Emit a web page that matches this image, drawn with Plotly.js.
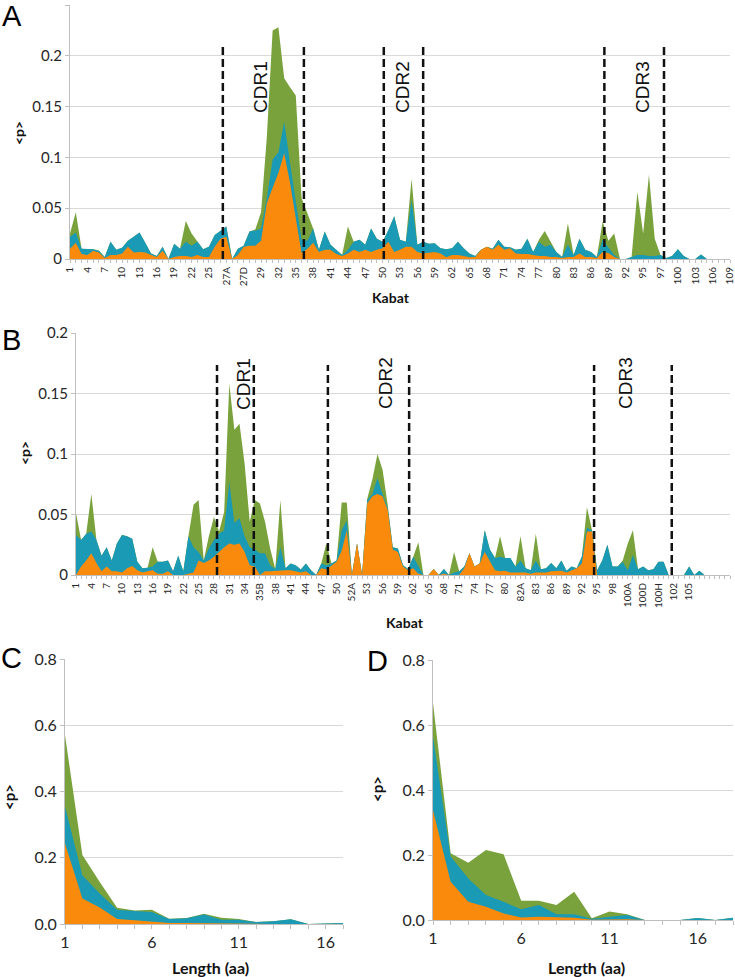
<!DOCTYPE html>
<html>
<head>
<meta charset="utf-8">
<script src="https://cdn.plot.ly/plotly-3.0.1.min.js"></script>
<style>html,body{margin:0;padding:0;background:#fff;}#chart{width:735px;height:977px;}</style>
</head>
<body>
<div id="chart"></div>
<script>
// ---------- Panel A (light chain, Kabat) ----------
const kabatA = ['1','2','3','4','5','6','7','8','9','10','11','12','13','14','15','16','17','18','19','20','21','22','23','24','25','26','27','27A','27B','27C','27D','27E','28','29','30','31','32','33','34','35','36','37','38','39','40','41','42','43','44','45','46','47','48','49','50','51','52','53','54','55','56','57','58','59','60','61','62','63','64','65','66','67','68','69','70','71','72','73','74','75','76','77','78','79','80','81','82','83','84','85','86','87','88','89','90','91','92','93','94','95','95A','96','97','98','99','100','101','102','103','104','105','106','107','108','109'];
// upper edge of each coloured band (green = total, teal, orange)
const aGreenTop = [.025,.046,.010,.0095,.0095,.008,.002,.017,.009,.011,.018,.022,.026,.016,.0055,.003,.012,0,.015,.010,.0375,.025,.017,.0095,.012,.0235,.0275,.032,0,.010,.013,.027,.029,.046,.120,.225,.228,.178,.169,.161,.060,.045,.030,.009,.027,.014,.009,.004,.032,.017,.019,.014,.030,.020,.017,.0285,.042,.019,.017,.079,.014,.017,.015,.0155,.0105,.0095,.0105,.017,.0105,.0055,.003,.009,.012,.010,.019,.012,.0115,.009,.010,.020,.007,.019,.0275,.017,.007,.002,.035,.004,.020,.009,.007,.002,.037,.018,.025,0,0,.002,.066,.025,.083,.020,.004,.001,.003,.0095,.003,0,0,.0045,0,0,0,0,0];
const aTealTop  = [.022,.026,.010,.0095,.0095,.008,.002,.017,.009,.011,.018,.022,.026,.016,.0055,.003,.012,0,.015,.010,.017,.013,.017,.0095,.012,.0235,.0275,.032,0,.010,.013,.027,.028,.030,.060,.098,.105,.135,.095,.058,.019,.018,.030,.009,.027,.014,.009,.004,.009,.017,.019,.014,.030,.020,.017,.0285,.042,.019,.017,.058,.014,.017,.015,.0155,.0105,.0095,.0105,.017,.0105,.0055,.003,.009,.012,.010,.019,.012,.0115,.009,.010,.020,.007,.017,.012,.014,.007,.002,.014,.004,.020,.009,.007,.002,.019,.012,.004,0,0,.002,.004,.004,.003,.003,.004,.001,.003,.0095,.003,0,0,.0045,0,0,0,0,0];
const aOrangeTop= [.010,.016,.005,.004,.008,.0065,.001,.004,.004,.0055,.012,.0065,.007,.0065,.004,.002,.008,0,.002,.003,.003,.002,.004,.002,.002,.012,.020,.022,0,.004,.012,.013,.013,.018,.055,.070,.085,.104,.075,.040,.006,.010,.016,.007,.009,.009,.005,.003,.0055,.009,.007,.009,.007,.009,.0105,.017,.007,.009,.012,.012,.007,.0055,.006,.007,.0055,.0016,.004,.004,.003,.0016,.002,.009,.012,.009,.014,.009,.0105,.0055,.005,.005,.004,.003,.003,.002,.002,.001,.002,.002,.0055,.002,.002,.001,.007,.006,.002,0,0,0,0,0,0,0,0,0,0,0,0,0,0,0,0,0,0,0,0];
const cdrLinesA = [26.4, 40.4, 54.2, 61.0, 92.3, 102.6];

// ---------- Panel B (heavy chain, Kabat) ----------
const kabatB = ['1','2','3','4','5','6','7','8','9','10','11','12','13','14','15','16','17','18','19','20','21','22','23','24','25','26','27','28','29','30','31','32','33','34','35','35A','35B','36','37','38','39','40','41','42','43','44','45','46','47','48','49','50','51','52','52A','52B','52C','53','54','55','56','57','58','59','60','61','62','63','64','65','66','67','68','69','70','71','72','73','74','75','76','77','78','79','80','81','82','82A','82B','82C','83','84','85','86','87','88','89','90','91','92','93','94','95','96','97','98','99','100','100A','100B','100C','100D','100E','100F','100H','100I','101','102','103','104','105','106','107','108','109','110','111','112','113'];
const bLabelLast = '105';
const bGreenTop = [.051,.029,.034,.067,.029,.016,.023,.012,.026,.033,.032,.030,.011,.0055,.006,.023,.011,.011,.012,.003,.016,.003,.032,.058,.062,.012,.032,.048,.036,.052,.158,.120,.125,.092,.044,.062,.059,.044,.022,.005,.062,.0055,.0096,.008,.0045,.0096,.004,0,.0096,.026,.0096,.012,.060,.060,0,.026,0,.063,.079,.100,.087,.058,.023,.022,.008,.005,.015,.027,0,0,.005,0,.005,0,.019,.003,.007,.018,.007,.0096,.037,.021,.014,.032,.014,.014,.007,.032,.0055,.004,.034,.0047,.0055,.010,.0055,.012,.0035,.007,.0055,.015,.056,.037,.004,.012,.025,.007,.007,.012,.026,.037,.0047,.007,.004,.0047,.011,.011,0,0,0,0,.007,0,.0035,0,0,0,0,0,0];
const bTealTop  = [.033,.029,.034,.036,.029,.016,.023,.012,.026,.033,.032,.030,.011,.0055,.006,.007,.011,.011,.012,.003,.016,.003,.032,.023,.019,.012,.022,.029,.034,.037,.077,.043,.047,.032,.023,.021,.018,.018,.008,.005,.023,.0055,.0096,.008,.0045,.0096,.004,0,.0096,.008,.0096,.012,.037,.045,0,.026,0,.062,.067,.080,.067,.056,.023,.022,.008,.005,.015,.007,0,0,.005,0,.005,0,.002,.003,.007,.018,.007,.0096,.037,.021,.014,.015,.014,.014,.007,.012,.0055,.004,.012,.0047,.0055,.010,.0055,.012,.0035,.007,.0055,.015,.039,.037,.004,.012,.025,.007,.007,.011,.004,.0165,.0047,.007,.004,.0047,.011,.011,0,0,0,0,.007,0,.0035,0,0,0,0,0,0];
const bOrangeTop= [0,.007,.012,.018,.010,.003,.007,.003,.003,.002,.0055,.0075,.004,.002,.003,.004,.001,.001,.003,0,0,0,.001,.002,.012,.010,.012,.015,.019,.023,.026,.025,.026,.019,.008,.007,0,.003,.003,.0035,.004,.004,.004,.003,.002,.003,0,0,.0055,.0045,.008,.011,.020,.037,0,.026,0,.059,.065,.067,.065,.054,.021,.019,.007,.004,.0055,.001,0,0,.005,0,.001,0,0,0,.0055,.018,.007,.0096,.019,.012,.004,.003,.0035,.002,.002,.002,.002,.001,.002,.002,.002,.003,.003,.0035,.002,.0035,.0055,.0096,.036,.036,0,0,0,0,0,0,0,0,0,0,0,0,0,0,0,0,0,0,0,0,0,0,0,0,0,0,0];
const cdrLinesB = [27.6, 34.8, 49.3, 65.2, 101.4, 116.6];

// ---------- Panels C and D (CDR3 length) ----------
const lengthC = [1,2,3,4,5,6,7,8,9,10,11,12,13,14,15,16,17];
const cGreenTop = [.57,.208,.127,.049,.041,.043,.016,.018,.031,.019,.015,.006,.008,.014,0,.002,.003];
const cTealTop  = [.354,.147,.092,.043,.039,.036,.015,.017,.029,.013,.013,.006,.008,.014,0,.002,.003];
const cOrangeTop= [.243,.077,.05,.015,.011,.008,.003,.003,.002,.001,.001,.001,0,0,0,0,0];
const lengthD = [1,2,3,4,5,6,7,8,9,10,11,12,13,14,15,16,17,18];
const dGreenTop = [.667,.205,.176,.215,.202,.059,.059,.046,.087,.005,.026,.018,0,0,0,.006,0,.007];
const dTealTop  = [.564,.195,.128,.077,.056,.033,.046,.018,.018,.004,.01,.015,0,0,0,.006,0,.007];
const dOrangeTop= [.338,.118,.056,.041,.02,.008,.01,.008,.007,.001,.002,.002,0,0,0,0,0,0];
const lengthTickLabels = ['1','6','11','16'];

const GREEN = '#79A23D', TEAL = '#1A9AB5', ORANGE = '#F98A0B';
const TICK = '#262626', GRID = '#d9d9d9', AXIS = '#bfbfbf';
const FONT = 'Lato, Open Sans, sans-serif';

function band(x, y, color, xa, ya) {
  return {x: x, y: y, type: 'scatter', mode: 'lines', fill: 'tozeroy', fillcolor: color,
          line: {width: 0, color: color}, xaxis: xa, yaxis: ya, hoverinfo: 'skip', showlegend: false};
}

const traces = [
  band(kabatA, aGreenTop, GREEN, 'x', 'y'),
  band(kabatA, aTealTop, TEAL, 'x', 'y'),
  band(kabatA, aOrangeTop, ORANGE, 'x', 'y'),
  band(kabatB, bGreenTop, GREEN, 'x2', 'y2'),
  band(kabatB, bTealTop, TEAL, 'x2', 'y2'),
  band(kabatB, bOrangeTop, ORANGE, 'x2', 'y2'),
  band(lengthC, cGreenTop, GREEN, 'x3', 'y3'),
  band(lengthC, cTealTop, TEAL, 'x3', 'y3'),
  band(lengthC, cOrangeTop, ORANGE, 'x3', 'y3'),
  band(lengthD, dGreenTop, GREEN, 'x4', 'y4'),
  band(lengthD, dTealTop, TEAL, 'x4', 'y4'),
  band(lengthD, dOrangeTop, ORANGE, 'x4', 'y4')
];

const W = 735, H = 977;
const px = v => v / W, py = v => 1 - v / H;

const lastB = kabatB.indexOf(bLabelLast);
const ticktextA = kabatA.map((c, i) => i % 3 === 0 ? c : '');
const ticktextB = kabatB.map((c, i) => (i % 3 === 0 && i <= lastB) ? c : '');

function kabatAxis(dom, anchor, cats, ticktext, maxIdx) {
  return {domain: dom, anchor: anchor, type: 'category', categoryorder: 'array', categoryarray: cats,
    range: [0, maxIdx], tickmode: 'array', tickvals: cats, ticktext: ticktext, tickangle: -90,
    ticks: 'outside', ticklen: 3, tickcolor: AXIS, showgrid: false, showline: true, linecolor: AXIS,
    zeroline: false, tickfont: {family: FONT, size: 10, color: TICK}, fixedrange: true};
}
function lengthAxis(dom, anchor, vals, maxV) {
  return {domain: dom, anchor: anchor, range: [1, maxV], tickmode: 'array', tickvals: vals,
    ticktext: vals.map(v => lengthTickLabels.includes(String(v)) ? String(v) : ''),
    ticks: 'outside', ticklen: 4, tickcolor: AXIS, showgrid: false, showline: true, linecolor: AXIS,
    zeroline: false, tickfont: {family: FONT, size: 16, color: TICK}, fixedrange: true};
}
function valAxis(dom, anchor, range, dtick, fmt, size) {
  return {domain: dom, anchor: anchor, range: range, dtick: dtick, tickformat: fmt, showgrid: true, gridcolor: GRID,
    showline: true, linecolor: AXIS, zeroline: false, ticks: 'outside', ticklen: 4, tickcolor: AXIS,
    tickfont: {family: FONT, size: size, color: TICK}, fixedrange: true};
}

const layout = {
  width: W, height: H, margin: {l: 0, r: 0, t: 0, b: 0}, paper_bgcolor: '#fff', plot_bgcolor: '#fff',
  showlegend: false,
  xaxis: kabatAxis([px(70), px(730)], 'y', kabatA, ticktextA, kabatA.length - 1),
  yaxis: valAxis([py(259), py(5)], 'x', [0, 0.25], 0.05, '', 15),
  xaxis2: kabatAxis([px(76), px(730)], 'y2', kabatB, ticktextB, kabatB.length - 1),
  yaxis2: valAxis([py(575), py(333)], 'x2', [0, 0.2], 0.05, '', 15),
  xaxis3: lengthAxis([px(65), px(343)], 'y3', lengthC, 17),
  yaxis3: valAxis([py(924), py(659)], 'x3', [0, 0.8], 0.2, '.1f', 16),
  xaxis4: lengthAxis([px(433), px(733)], 'y4', lengthD, 18),
  yaxis4: valAxis([py(920), py(660)], 'x4', [0, 0.8], 0.2, '.1f', 16),
  shapes: [],
  annotations: []
};

cdrLinesA.forEach(x => layout.shapes.push({type: 'line', xref: 'x', yref: 'y', x0: x, x1: x, y0: 0, y1: 0.209,
  line: {color: '#111', width: 2.5, dash: '8px,4px'}}));
cdrLinesB.forEach(x => layout.shapes.push({type: 'line', xref: 'x2', yref: 'y2', x0: x, x1: x, y0: 0, y1: 0.1736,
  line: {color: '#111', width: 2.5, dash: '8px,4px'}}));

function ann(text, x, y, opts) {
  layout.annotations.push(Object.assign({text: text, xref: 'paper', yref: 'paper', x: px(x), y: py(y),
    xanchor: 'center', yanchor: 'middle', showarrow: false}, opts));
}
const cdrFont = {family: 'Liberation Sans, Arial, sans-serif', size: 19, color: '#111'};
ann('CDR1', 260, 87, {textangle: -90, font: cdrFont});
ann('CDR2', 402, 87, {textangle: -90, font: cdrFont});
ann('CDR3', 642, 87, {textangle: -90, font: cdrFont});
ann('CDR1', 243, 384, {textangle: -90, font: cdrFont});
ann('CDR2', 385, 383, {textangle: -90, font: cdrFont});
ann('CDR3', 625, 383, {textangle: -90, font: cdrFont});

const letterFont = {family: 'Liberation Sans, Arial, sans-serif', size: 29, color: '#000'};
ann('A', 12, 16, {font: letterFont});
ann('B', 11, 340, {font: letterFont});
ann('C', 11, 658, {font: letterFont});
ann('D', 377, 661, {font: letterFont});

const titleFont = {family: FONT, size: 14, color: '#111'};
const bigTitleFont = {family: FONT, size: 16, color: '#111'};
ann('<b>Kabat</b>', 391, 298, {font: titleFont});
ann('<b>Kabat</b>', 405, 622, {font: titleFont});
ann('<b>Length (aa)</b>', 210, 967, {font: bigTitleFont});
ann('<b>Length (aa)</b>', 586, 967, {font: bigTitleFont});
ann('<b>&lt;p&gt;</b>', 18, 133, {textangle: -90, font: titleFont});
ann('<b>&lt;p&gt;</b>', 24, 453, {textangle: -90, font: titleFont});
ann('<b>&lt;p&gt;</b>', 9, 797, {textangle: -90, font: {family: FONT, size: 15, color: '#111'}});
ann('<b>&lt;p&gt;</b>', 377, 789, {textangle: -90, font: {family: FONT, size: 15, color: '#111'}});

Plotly.newPlot('chart', traces, layout, {staticPlot: true, displayModeBar: false});
</script>
</body>
</html>
